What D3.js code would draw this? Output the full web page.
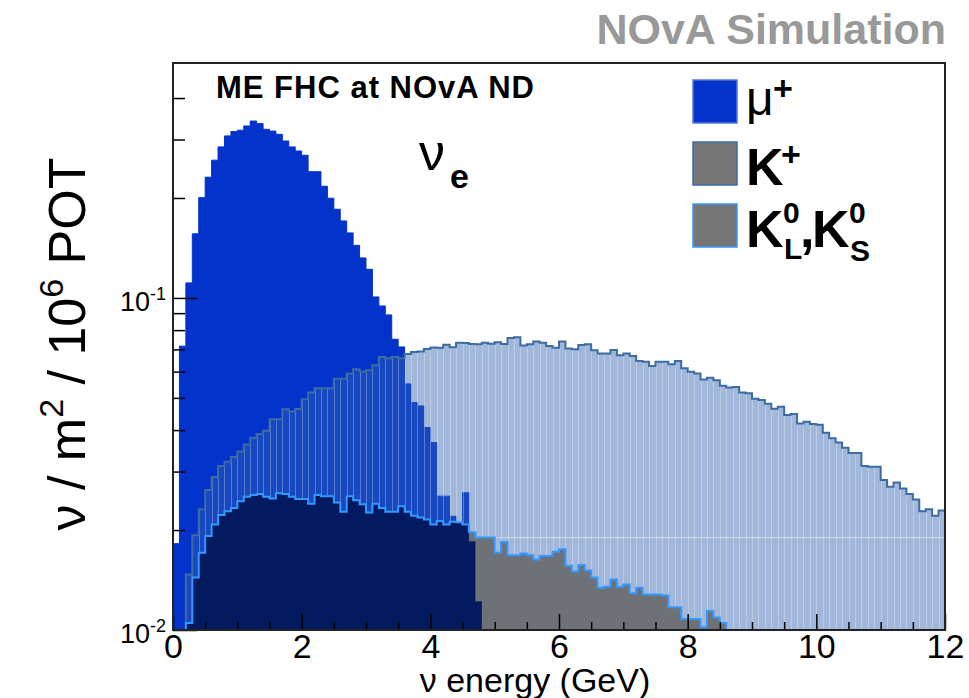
<!DOCTYPE html>
<html>
<head>
<meta charset="utf-8">
<script src="https://cdn.jsdelivr.net/npm/d3@7"></script>
<style>
  body { margin: 0; background: #fff; }
  svg { display: block; font-family: "Liberation Sans", Arial, Helvetica, sans-serif; }
</style>
</head>
<body>
<div id="chart"></div>
<script>
// bin contents, 0.1 GeV bins starting at 0 GeV
const binWidth = 0.1;

const muPlus = [0.0182, 0.0716, 0.111, 0.156, 0.2005, 0.231, 0.260, 0.285, 0.3076, 0.317,
  0.320, 0.3296, 0.341, 0.335, 0.322, 0.318, 0.311, 0.297, 0.285, 0.277,
  0.269, 0.240, 0.240, 0.217, 0.1997, 0.185, 0.1706, 0.157, 0.144, 0.132,
  0.122, 0.1007, 0.0946, 0.0889, 0.0751, 0.0712, 0.0551, 0.0484, 0.0473, 0.0407,
  0.0367, 0.0253, 0.0253, 0.0220, 0.0210, 0.0259, 0.0185, 0.0122];

const kPlus = [0, 0, 0.0147, 0.0193, 0.0231, 0.0264, 0.0289, 0.0312, 0.0321, 0.0332,
  0.0345, 0.0362, 0.0379, 0.0389, 0.0398, 0.0431, 0.0431, 0.0462, 0.0455, 0.0463,
  0.0495, 0.0519, 0.0535, 0.0535, 0.0535, 0.0571, 0.0571, 0.0592, 0.0610, 0.0600,
  0.0606, 0.0627, 0.0664, 0.0658, 0.0664, 0.0658, 0.0678, 0.0688, 0.0690, 0.0702,
  0.0709, 0.0708, 0.0723, 0.0710, 0.0733, 0.0732, 0.0727, 0.0725, 0.0733, 0.0728,
  0.0736, 0.0727, 0.0757, 0.0761, 0.0719, 0.0725, 0.0739, 0.0733, 0.0717, 0.0708,
  0.0739, 0.0704, 0.0701, 0.0722, 0.0725, 0.0696, 0.0680, 0.0680, 0.0697, 0.0672,
  0.0680, 0.0669, 0.0646, 0.0642, 0.0624, 0.0642, 0.0642, 0.0631, 0.0646, 0.0614,
  0.0599, 0.0592, 0.0568, 0.0575, 0.0565, 0.0544, 0.0537, 0.0539, 0.0519, 0.0516,
  0.0497, 0.0493, 0.0480, 0.0464, 0.0470, 0.0444, 0.0447, 0.0419, 0.0424, 0.0417,
  0.0415, 0.0393, 0.0378, 0.0367, 0.0354, 0.0341, 0.0341, 0.0312, 0.0310, 0.0310,
  0.0283, 0.0270, 0.0278, 0.0267, 0.0257, 0.0247, 0.0228, 0.0231, 0.0221, 0.0229];

const kZero = [0, 0, 0.0105, 0.0144, 0.0171, 0.0192, 0.0208, 0.0222, 0.0228, 0.0233,
  0.0244, 0.0252, 0.0255, 0.0257, 0.0252, 0.0249, 0.0258, 0.0257, 0.0252, 0.0248,
  0.0248, 0.0240, 0.0255, 0.0253, 0.0253, 0.0242, 0.0227, 0.0253, 0.0246, 0.0239,
  0.0226, 0.0240, 0.0233, 0.0227, 0.0227, 0.0236, 0.0227, 0.0221, 0.0218, 0.0215,
  0.0208, 0.0213, 0.0208, 0.0212, 0.0211, 0.0208, 0.0197, 0.0190, 0.0190, 0.0190,
  0.0171, 0.0184, 0.0168, 0.0168, 0.0170, 0.0168, 0.0163, 0.0167, 0.0167, 0.0172,
  0.0175, 0.0156, 0.0150, 0.0157, 0.0151, 0.0144, 0.0134, 0.0135, 0.0142, 0.0135,
  0.0137, 0.0129, 0.0134, 0.0128, 0.0128, 0.0128, 0.0127, 0.0117, 0.0117, 0.0108,
  0.0108, 0.0108, 0.0102, 0.0114, 0.0109, 0.0105];

const xMajorTicks = [0, 2, 4, 6, 8, 10, 12];
const xMinorTicks = [0.5, 1, 1.5, 2.5, 3, 3.5, 4.5, 5, 5.5, 6.5, 7, 7.5, 8.5, 9, 9.5, 10.5, 11, 11.5];
const yMajorTicks = [0.01, 0.1];
const yMajorExp = ["-2", "-1"];
const yMinorTicks = [0.02, 0.03, 0.04, 0.05, 0.06, 0.07, 0.08, 0.09, 0.2, 0.3, 0.4];

const W = 969, H = 698;
const frame = {left: 173, right: 945, top: 63, bottom: 630};
const yMin = 0.01, yMax = 0.51;
const nBins = 120;

const colors = {
    mu: "#0433cc",
    kPlusFill: "#2f62b0",
    kPlusLine: "#3d6ba3",
    kZeroLine: "#3399ff"
};

const x = d3.scaleLinear().domain([0, nBins * binWidth]).range([frame.left, frame.right]);
const y = d3.scaleLog().domain([yMin, yMax]).range([frame.bottom, frame.top]);

const svg = d3.select("#chart").append("svg")
    .attr("width", W).attr("height", H);

const defs = svg.append("defs");

// step points for a histogram
var steps = function(vals){
    let pts = [[0, 0]];
    vals.forEach((v, i) => {
        pts.push([i * binWidth, v]);
        pts.push([(i + 1) * binWidth, v]);
    });
    pts.push([vals.length * binWidth, 0]);
    return pts;
};
const yv = v => y(Math.max(v, yMin));
const area = d3.area().x(d => x(d[0])).y0(frame.bottom).y1(d => yv(d[1]));
const line = d3.line().x(d => x(d[0])).y(d => yv(d[1]));

defs.append("clipPath").attr("id", "plotClip").append("rect")
    .attr("x", frame.left).attr("y", frame.top)
    .attr("width", frame.right - frame.left).attr("height", frame.bottom - frame.top);
defs.append("clipPath").attr("id", "kPlusClip").append("path").attr("d", area(steps(kPlus)));
defs.append("clipPath").attr("id", "kZeroClip").append("path").attr("d", area(steps(kZero)));

const plot = svg.append("g").attr("clip-path", "url(#plotClip)");

// mu+ solid
plot.append("path")
    .attr("d", area(steps(muPlus)))
    .attr("fill", colors.mu)
    .attr("stroke", colors.mu)
    .attr("stroke-width", 1);

// K+ hatched (drawn as translucent fill), with the bin seams of the hatch
plot.append("path")
    .attr("d", area(steps(kPlus)))
    .attr("fill", colors.kPlusFill)
    .attr("fill-opacity", 0.45);

let seams = plot.append("g").attr("clip-path", "url(#kPlusClip)");
seams.selectAll("line.seam")
    .data(d3.range(3, nBins))
    .enter().append("line")
    .attr("class", "seam")
    .attr("x1", i => Math.round(x(i * binWidth)) + 0.5)
    .attr("x2", i => Math.round(x(i * binWidth)) + 0.5)
    .attr("y1", frame.top).attr("y2", frame.bottom)
    .attr("stroke", "#fff").attr("stroke-opacity", 0.28).attr("stroke-width", 1);
seams.append("line")
    .attr("x1", x(4.7)).attr("x2", x(12))
    .attr("y1", 537.5).attr("y2", 537.5)
    .attr("stroke", "#fff").attr("stroke-opacity", 0.5).attr("stroke-width", 1);

plot.append("path")
    .attr("d", line(steps(kPlus)))
    .attr("fill", "none")
    .attr("stroke", colors.kPlusLine)
    .attr("stroke-width", 2);

// K0 hatch: black hatch replaces the K+ hatch pixels, so repaint what lies under K+
let k0 = plot.append("g").attr("clip-path", "url(#kZeroClip)");
k0.append("rect")
    .attr("x", frame.left).attr("y", frame.top)
    .attr("width", frame.right - frame.left).attr("height", frame.bottom - frame.top)
    .attr("fill", "#fff");
k0.append("path")
    .attr("d", area(steps(muPlus)))
    .attr("fill", colors.mu);
k0.append("rect")
    .attr("x", frame.left).attr("y", frame.top)
    .attr("width", frame.right - frame.left).attr("height", frame.bottom - frame.top)
    .attr("fill", colors.kPlusFill).attr("fill-opacity", 0.12);
k0.append("rect")
    .attr("x", frame.left).attr("y", frame.top)
    .attr("width", frame.right - frame.left).attr("height", frame.bottom - frame.top)
    .attr("fill", "#000").attr("fill-opacity", 0.52);

const kZeroFull = kZero.concat(d3.range(nBins - kZero.length).map(() => 0));
plot.append("path")
    .attr("d", line(steps(kZeroFull)))
    .attr("fill", "none")
    .attr("stroke", colors.kZeroLine)
    .attr("stroke-width", 2);

// axes, ROOT style ticks inside the frame
const fontFamily = '"Liberation Sans", Arial, Helvetica, sans-serif';

let gx = svg.append("g")
    .attr("transform", `translate(0,${frame.bottom})`)
    .call(d3.axisBottom(x).tickValues(xMajorTicks).tickSize(-16).tickSizeOuter(0).tickPadding(4));
gx.select(".domain").remove();
gx.attr("font-size", 34).attr("font-family", fontFamily);
gx.selectAll(".tick line").attr("stroke", "#000").attr("stroke-width", 1.5);
gx.selectAll(".tick text").attr("fill", "#000");

let gxm = svg.append("g")
    .attr("transform", `translate(0,${frame.bottom})`)
    .call(d3.axisBottom(x).tickValues(xMinorTicks).tickSize(-8).tickSizeOuter(0).tickFormat(() => ""));
gxm.select(".domain").remove();
gxm.selectAll(".tick line").attr("stroke", "#000").attr("stroke-width", 1.5);

let gy = svg.append("g")
    .attr("transform", `translate(${frame.left},0)`)
    .call(d3.axisLeft(y).tickValues(yMajorTicks).tickSize(-24).tickSizeOuter(0).tickFormat(() => ""));
gy.select(".domain").remove();
gy.selectAll(".tick line").attr("stroke", "#000").attr("stroke-width", 1.5);

let gym = svg.append("g")
    .attr("transform", `translate(${frame.left},0)`)
    .call(d3.axisLeft(y).tickValues(yMinorTicks).tickSize(-12).tickSizeOuter(0).tickFormat(() => ""));
gym.select(".domain").remove();
gym.selectAll(".tick line").attr("stroke", "#000").attr("stroke-width", 1.5);

// y tick labels 10^-n
yMajorTicks.forEach((v, i) => {
    let t = svg.append("text")
        .attr("x", 166).attr("y", y(v) + 13)
        .attr("text-anchor", "end")
        .attr("font-size", 27);
    t.append("tspan").text("10");
    t.append("tspan").attr("dy", -11).attr("font-size", 18).text(yMajorExp[i]);
});

// frame
svg.append("rect")
    .attr("x", frame.left).attr("y", frame.top)
    .attr("width", frame.right - frame.left).attr("height", frame.bottom - frame.top)
    .attr("fill", "none").attr("stroke", "#222").attr("stroke-width", 2);

// titles
svg.append("text")
    .attr("x", 535).attr("y", 692)
    .attr("text-anchor", "middle").attr("font-size", 34)
    .text("\u03bd energy (GeV)");

let yt = svg.append("text")
    .attr("transform", "translate(85,344) rotate(-90)")
    .attr("text-anchor", "middle").attr("font-size", 52);
yt.append("tspan").text("\u03bd / m");
yt.append("tspan").attr("dy", -22).attr("font-size", 34).text("2");
yt.append("tspan").attr("dy", 22).text(" / 10");
yt.append("tspan").attr("dy", -22).attr("font-size", 34).text("6");
yt.append("tspan").attr("dy", 22).text(" POT");

svg.append("text")
    .attr("x", 946).attr("y", 44)
    .attr("text-anchor", "end").attr("font-size", 43).attr("font-weight", "bold")
    .attr("fill", "#999").text("NOvA Simulation");

svg.append("text")
    .attr("x", 216).attr("y", 98)
    .attr("font-size", 31).attr("font-weight", "bold").attr("letter-spacing", 1)
    .text("ME FHC at NOvA ND");

svg.append("text").attr("x", 419).attr("y", 170).attr("font-size", 52).text("\u03bd");
svg.append("text").attr("x", 450).attr("y", 188).attr("font-size", 34).attr("font-weight", "bold").text("e");

// legend
const legend = svg.append("g");
const boxes = [
    {y: 80, fill: colors.mu, stroke: "#5577dd"},
    {y: 142, fill: "#767676", stroke: colors.kPlusLine},
    {y: 204, fill: "#767676", stroke: colors.kZeroLine}
];
legend.selectAll("rect").data(boxes).enter().append("rect")
    .attr("x", 693).attr("y", d => d.y)
    .attr("width", 44).attr("height", 43)
    .attr("fill", d => d.fill)
    .attr("stroke", d => d.stroke).attr("stroke-width", 1.5);

legend.append("text").attr("x", 746).attr("y", 115).attr("font-size", 48).text("\u03bc");
legend.append("text").attr("x", 773).attr("y", 100).attr("font-size", 34).attr("font-weight", "bold").text("+");

legend.append("text").attr("x", 746).attr("y", 185).attr("font-size", 52).attr("font-weight", "bold").text("K");
legend.append("text").attr("x", 781).attr("y", 166).attr("font-size", 34).attr("font-weight", "bold").text("+");

const kz = [
    {x: 746, y: 247, s: 52, t: "K"},
    {x: 783, y: 223, s: 30, t: "0"},
    {x: 784, y: 259, s: 30, t: "L"},
    {x: 800, y: 247, s: 52, t: ","},
    {x: 812, y: 247, s: 52, t: "K"},
    {x: 849, y: 223, s: 30, t: "0"},
    {x: 850, y: 261, s: 30, t: "S"}
];
legend.selectAll("text.kz").data(kz).enter().append("text")
    .attr("class", "kz")
    .attr("x", d => d.x).attr("y", d => d.y)
    .attr("font-size", d => d.s).attr("font-weight", "bold")
    .text(d => d.t);
</script>
</body>
</html>
